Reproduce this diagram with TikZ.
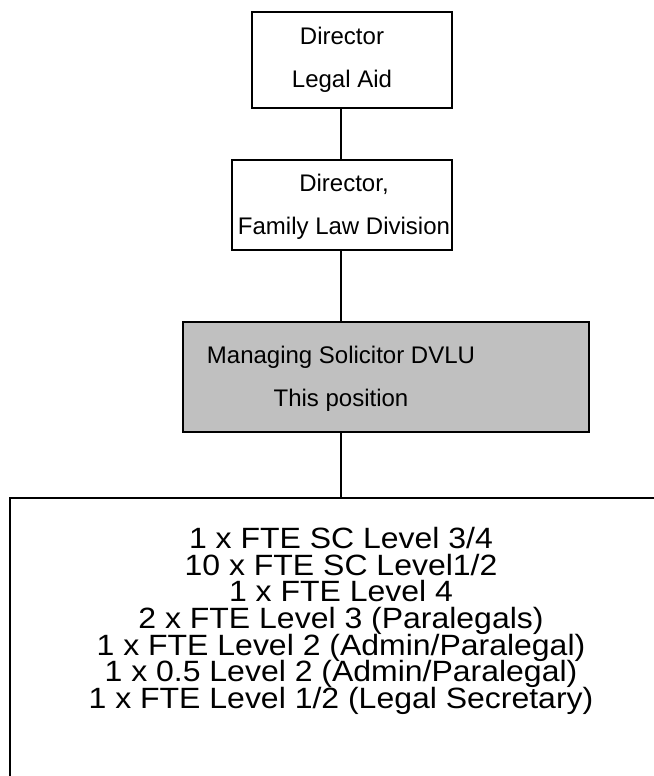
\documentclass[tikz,border=0pt]{standalone}
\usepackage{fontspec}
\setmainfont{Liberation Sans}
\newfontfamily\stafffont[FakeStretch=1.09]{Liberation Sans}
\newcommand\stafflistfont{\stafffont\fontsize{22}{20}\selectfont\lineskiplimit=-20pt\relax}
\usetikzlibrary{positioning}
\definecolor{posgray}{HTML}{C0C0C0}
\begin{document}
\begin{tikzpicture}[x=0.75pt,y=-0.75pt,inner sep=0pt,outer sep=0pt,line width=1.3pt,
posbox/.style={draw,rectangle,line width=1.3pt},
postext/.style={align=center,font=\fontsize{18}{32}\selectfont},
link/.style={line width=1.1pt}]
\useasboundingbox (0,0) rectangle (654,776);
\clip (0,0) rectangle (654,776);
\draw (352,60) node[posbox,minimum width=150pt,minimum height=72pt] (dla) {};
\draw (342,60) node[postext] (dlatext) {Director\\Legal Aid};
\draw (342,205) node[posbox,minimum width=165pt,minimum height=67.5pt] (dfl) {};
\draw (344,207) node[postext] (dfltext) {Director,\\Family Law Division};
\draw (386,377) node[posbox,fill=posgray,minimum width=305pt,minimum height=82.5pt] (msd) {};
\draw (341,379) node[postext] (msdtext) {Managing Solicitor DVLU\\This position};
\draw (10,498) node[posbox,anchor=north west,minimum width=500pt,minimum height=240pt] (staff) {};
\draw (341,621) node[align=center,font=\stafflistfont] (stafflist) {1 x FTE SC Level 3/4\\10 x FTE SC Level1/2\\1 x FTE Level 4\\2 x FTE Level 3 (Paralegals)\\1 x FTE Level 2 (Admin/Paralegal)\\1 x 0.5 Level 2 (Admin/Paralegal)\\1 x FTE Level 1/2 (Legal Secretary)};
\draw[link] (dla.south -| 341,0) -- (dfl.north -| 341,0);
\draw[link] (dfl.south -| 341,0) -- (msd.north -| 341,0);
\draw[link] (msd.south -| 341,0) -- (staff.north -| 341,0);
\end{tikzpicture}
\end{document}
